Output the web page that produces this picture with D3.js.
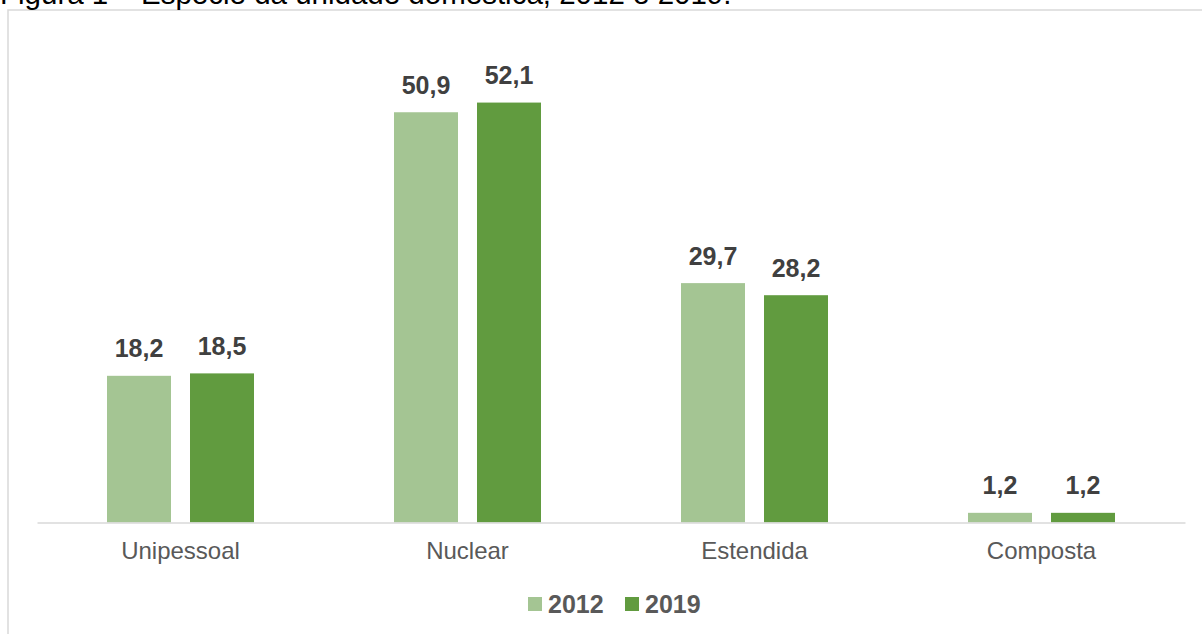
<!DOCTYPE html>
<html>
<head>
<meta charset="utf-8">
<script src="https://cdn.jsdelivr.net/npm/d3@7"></script>
<style>
  html, body { margin: 0; padding: 0; background: #fff; }
  svg { display: block; font-family: "Liberation Sans", Arial, sans-serif; }
</style>
</head>
<body>
<svg id="chart" width="1202" height="634"></svg>
<script>
// Household type shares (%), 2012 and 2019
const categories = ["Unipessoal", "Nuclear", "Estendida", "Composta"];
const seriesNames = ["2012", "2019"];
const values2012 = [18.2, 50.9, 29.7, 1.2];
const values2019 = [18.5, 52.1, 28.2, 1.2];
const seriesColors = ["#a4c593", "#619b3f"];
const titleText = "Figura 1 – Espécie da unidade doméstica, 2012 e 2019.";

const seriesValues = [values2012, values2019];
const fmt = v => d3.format(".1f")(v).replace(".", ",");

const svg = d3.select("#chart");

// Frame around the chart area
svg.append("rect")
  .attr("x", 8).attr("y", 10)
  .attr("width", 1300).attr("height", 700)
  .attr("fill", "none")
  .attr("stroke", "#d9d9d9")
  .attr("stroke-width", 1.5);

// Caption above the frame
svg.append("text")
  .attr("x", 0).attr("y", 4)
  .attr("font-size", 29.5)
  .attr("fill", "#000")
  .text(titleText);

const plotLeft = 37, plotRight = 1185, baseY = 522.5;

const x0 = d3.scaleBand().domain(categories).range([plotLeft, plotRight]).padding(0);
const x1 = d3.scaleBand().domain(seriesNames).range([70, 217]).paddingInner(0.229).paddingOuter(0);
const y = d3.scaleLinear().domain([0, 60]).range([baseY, baseY - 60 * 8.06]);

const rows = categories.map((c, i) => ({
  category: c,
  bars: seriesNames.map((s, j) => ({ series: s, value: seriesValues[j][i], color: seriesColors[j] }))
}));

const groups = svg.selectAll("g.cat").data(rows).join("g")
  .attr("class", "cat")
  .attr("transform", d => `translate(${x0(d.category)},0)`);

groups.selectAll("rect").data(d => d.bars).join("rect")
  .attr("x", d => x1(d.series))
  .attr("y", d => y(d.value))
  .attr("width", x1.bandwidth())
  .attr("height", d => y(0) - y(d.value))
  .attr("fill", d => d.color);

groups.selectAll("text.val").data(d => d.bars).join("text")
  .attr("class", "val")
  .attr("x", d => x1(d.series) + x1.bandwidth() / 2)
  .attr("y", d => y(d.value) - 18.5)
  .attr("text-anchor", "middle")
  .attr("font-size", 25)
  .attr("font-weight", "bold")
  .attr("fill", "#404040")
  .text(d => fmt(d.value));

// Category axis
const xAxis = svg.append("g")
  .attr("transform", `translate(0,${baseY})`)
  .call(d3.axisBottom(x0).tickSize(0).tickPadding(0));
xAxis.select(".domain").attr("stroke", "#d9d9d9").attr("stroke-width", 1.5);
xAxis.selectAll(".tick text")
  .attr("dy", null)
  .attr("y", 36.5)
  .attr("font-family", "Liberation Sans, Arial, sans-serif")
  .attr("font-size", 24)
  .attr("fill", "#595959");

// Legend
const legend = svg.append("g").attr("transform", "translate(528,597)");
const legendStep = 97;
const items = legend.selectAll("g").data(seriesNames).join("g")
  .attr("transform", (d, i) => `translate(${i * legendStep},0)`);
items.append("rect")
  .attr("width", 14).attr("height", 14)
  .attr("fill", (d, i) => seriesColors[i]);
items.append("text")
  .attr("x", 20).attr("y", 16)
  .attr("font-size", 25)
  .attr("font-weight", "bold")
  .attr("fill", "#595959")
  .text(d => d);
</script>
</body>
</html>
